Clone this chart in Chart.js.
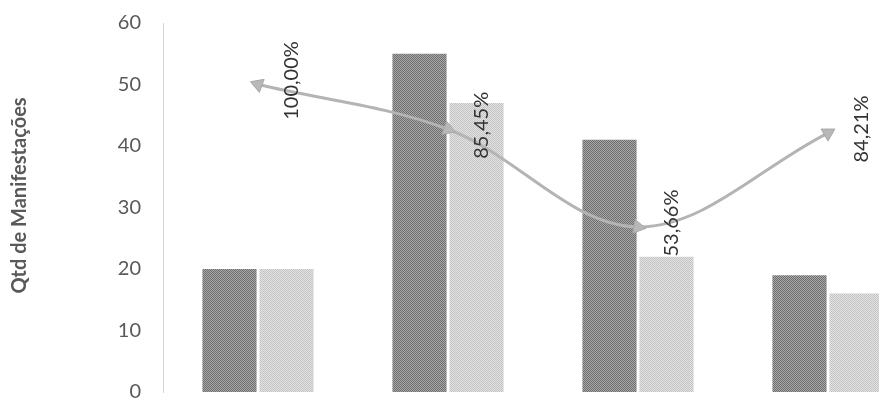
<!DOCTYPE html>
<html>
<head>
<meta charset="utf-8">
<script src="https://cdn.jsdelivr.net/npm/chart.js@4/dist/chart.umd.min.js"></script>
<style>
  html, body { margin: 0; padding: 0; background: #fff; overflow: hidden; width: 879px; height: 400px; }
  #wrap { position: relative; width: 932px; height: 437px; margin-top: -11px; }
</style>
</head>
<body>
<div id="wrap"><canvas id="c"></canvas></div>
<script>
const categories = ["1", "2", "3", "4"];
const seriesRecebidas = [20, 55, 41, 19];
const seriesRespondidas = [20, 47, 22, 16];
const seriesPercent = [1.0, 0.8545, 0.5366, 0.8421];
const percentLabels = ["100,00%", "85,45%", "53,66%", "84,21%"];
const yTicks = [0, 10, 20, 30, 40, 50, 60];
const yTitle = 'Qtd de Manifestações';

function checker(c1, c2) {
  const cv = document.createElement('canvas');
  cv.width = 2; cv.height = 2;
  const g = cv.getContext('2d');
  g.fillStyle = c1; g.fillRect(0, 0, 2, 2);
  g.fillStyle = c2; g.fillRect(0, 0, 1, 1); g.fillRect(1, 1, 1, 1);
  return g.createPattern(cv, 'repeat');
}
const ctx = document.getElementById('c').getContext('2d');
const darkPat = checker('#6e6e6e', '#a8a8a8');
const lightPat = checker('#c4c4c4', '#e2e2e2');

const labelPlugin = {
  id: 'pctLabels',
  afterDatasetsDraw(chart) {
    const meta = chart.getDatasetMeta(2);
    const c = chart.ctx;
    c.save();
    c.font = '20px Lato, "Open Sans", sans-serif';
    c.fillStyle = '#333';
    c.textAlign = 'center';
    c.textBaseline = 'middle';
    meta.data.forEach((pt, i) => {
      c.save();
      c.translate(pt.x + 34, pt.y - 4);
      c.rotate(-Math.PI / 2);
      c.fillText(percentLabels[i], 0, 0);
      c.restore();
    });
    // axis title, centred slightly above the plot centre as in the original
    const area = chart.chartArea;
    c.font = 'bold 20px Lato, "Open Sans", sans-serif';
    c.fillStyle = '#595959';
    c.save();
    c.translate(20, (area.top + area.bottom) / 2 - 12);
    c.rotate(-Math.PI / 2);
    c.fillText(yTitle, 0, 0);
    c.restore();
    c.restore();
  }
};

new Chart(ctx, {
  data: {
    labels: categories,
    datasets: [
      { type: 'bar', data: seriesRecebidas, backgroundColor: darkPat, yAxisID: 'y', order: 1,
        categoryPercentage: 0.6, barPercentage: 0.95 },
      { type: 'bar', data: seriesRespondidas, backgroundColor: lightPat, yAxisID: 'y', order: 1,
        categoryPercentage: 0.6, barPercentage: 0.95 },
      { type: 'line', data: seriesPercent, yAxisID: 'y2', order: 0,
        borderColor: '#b4b4b4', borderWidth: 3, tension: 0.35,
        pointStyle: 'triangle', pointRadius: 8, pointBackgroundColor: '#b8b8b8',
        pointBorderColor: '#a8a8a8', pointBorderWidth: 1,
        pointRotation: [-70, 110, 100, 60] }
    ]
  },
  options: {
    responsive: true,
    maintainAspectRatio: false,
    animation: false,
    layout: { padding: { top: 2, right: 5, bottom: 9, left: 0 } },
    plugins: { legend: { display: false }, tooltip: { enabled: false } },
    scales: {
      x: { display: false, offset: true, grid: { display: false } },
      y: {
        min: 0, max: 60,
        afterBuildTicks(scale) { scale.ticks = yTicks.map(v => ({ value: v })); },
        afterFit(scale) { scale.width = 163; },
        grid: { display: false, drawTicks: false },
        border: { display: true, color: '#d4d4d4', width: 1 },
        ticks: { padding: 22, color: '#595959', font: { family: 'Lato, "Open Sans", sans-serif', size: 20 } },
        title: { display: false }
      },
      y2: { display: false, min: 0, max: 1.2, position: 'right' }
    }
  },
  plugins: [labelPlugin]
});
</script>
</body>
</html>
